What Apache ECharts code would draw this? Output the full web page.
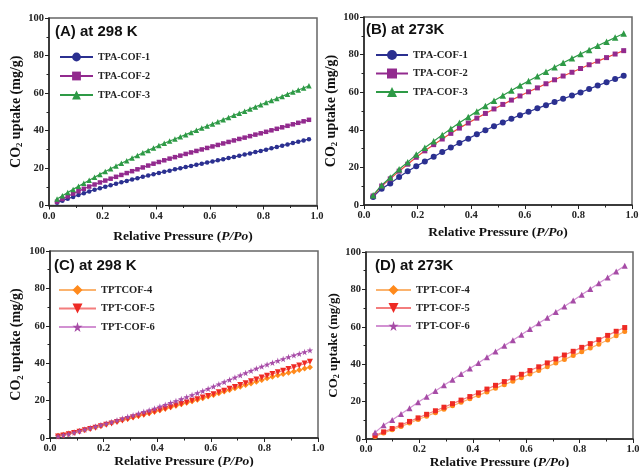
<!DOCTYPE html>
<html><head><meta charset="utf-8">
<script src="https://cdn.jsdelivr.net/npm/echarts@6/dist/echarts.min.js"></script>
<style>html,body{margin:0;padding:0;background:#fff}#c{width:639px;height:467px}</style>
</head><body><div id="c"></div>
<script>
// ---- data ----
const pressureAC = [0.03,0.05,0.07,0.09,0.11,0.13,0.15,0.17,0.19,0.21,0.23,0.25,0.27,0.29,0.31,0.33,0.35,0.37,0.39,0.41,0.43,0.45,0.47,0.49,0.51,0.53,0.55,0.57,0.59,0.61,0.63,0.65,0.67,0.69,0.71,0.73,0.75,0.77,0.79,0.81,0.83,0.85,0.87,0.89,0.91,0.93,0.95,0.97];
const pressureBD = [0.034,0.066,0.098,0.131,0.163,0.195,0.227,0.260,0.292,0.324,0.356,0.389,0.421,0.453,0.485,0.518,0.550,0.582,0.614,0.647,0.679,0.711,0.743,0.776,0.808,0.840,0.872,0.905,0.937,0.969];

const A_TPA1 = [1.5,2.6,3.6,4.6,5.6,6.6,7.5,8.4,9.2,10.0,10.8,11.6,12.4,13.1,13.9,14.6,15.3,16.0,16.7,17.4,18.0,18.6,19.3,19.9,20.5,21.1,21.7,22.3,22.9,23.5,24.1,24.7,25.3,25.9,26.5,27.2,27.8,28.5,29.1,29.8,30.5,31.2,31.9,32.6,33.3,34.0,34.7,35.4];
const A_TPA2 = [2.0,3.5,4.9,6.3,7.6,8.9,10.1,11.2,12.3,13.3,14.3,15.3,16.3,17.3,18.3,19.3,20.3,21.3,22.3,23.2,24.1,25.0,25.8,26.6,27.5,28.3,29.1,29.9,30.7,31.5,32.3,33.1,33.9,34.7,35.5,36.2,37.0,37.8,38.5,39.3,40.1,40.9,41.7,42.5,43.3,44.1,44.9,45.7];
const A_TPA3 = [3.5,5.2,6.9,8.6,10.3,11.9,13.5,15.1,16.6,18.1,19.6,21.1,22.5,23.9,25.3,26.7,28.1,29.4,30.7,32.0,33.2,34.4,35.5,36.7,37.8,39.0,40.1,41.3,42.4,43.5,44.7,45.8,46.9,48.1,49.2,50.3,51.5,52.6,53.7,54.9,56.0,57.1,58.2,59.4,60.5,61.6,62.7,63.9];

const B_TPA1 = [4.3,8.7,11.5,14.9,17.9,20.6,23.2,25.7,28.2,30.6,33.0,35.3,37.6,39.8,41.9,43.9,45.9,47.8,49.6,51.4,53.1,54.8,56.5,58.2,59.9,61.7,63.5,65.3,67.0,68.7];
const B_TPA2 = [4.8,10.1,13.9,18.0,21.7,25.4,28.8,32.1,35.1,38.1,40.9,43.6,46.2,48.7,51.1,53.5,55.8,58.0,60.2,62.3,64.5,66.6,68.6,70.6,72.6,74.6,76.5,78.4,80.3,82.1];
const B_TPA3 = [5.2,10.5,14.6,19.0,22.8,26.8,30.4,33.9,37.3,40.6,43.7,46.8,49.8,52.6,55.4,58.2,60.9,63.5,66.0,68.5,70.9,73.3,75.7,78.0,80.3,82.5,84.7,86.9,89.1,91.2];

const C_TPT4 = [1.2,1.8,2.4,3.0,3.7,4.4,5.1,5.8,6.6,7.3,8.1,8.8,9.6,10.3,11.1,11.8,12.6,13.3,14.1,14.9,15.6,16.4,17.2,18.0,18.8,19.6,20.5,21.3,22.2,23.0,23.9,24.8,25.7,26.6,27.4,28.3,29.2,30.1,31.0,31.9,32.7,33.5,34.2,34.9,35.6,36.3,37.1,37.9];
const C_TPT5 = [0.8,1.4,2.0,2.7,3.4,4.1,4.8,5.5,6.3,7.1,7.8,8.6,9.4,10.1,10.9,11.7,12.5,13.3,14.1,14.9,15.7,16.5,17.4,18.2,19.0,19.9,20.7,21.6,22.5,23.4,24.4,25.3,26.3,27.3,28.3,29.3,30.3,31.3,32.3,33.3,34.2,35.1,36.0,36.9,37.8,38.8,39.8,40.8];
const C_TPT6 = [1.0,1.6,2.2,2.9,3.7,4.5,5.3,6.1,6.9,7.7,8.6,9.5,10.4,11.3,12.2,13.1,14.0,14.9,15.8,16.8,17.8,18.8,19.8,20.8,21.9,23.0,24.1,25.2,26.4,27.6,28.8,30.0,31.2,32.4,33.6,34.8,36.0,37.1,38.2,39.3,40.3,41.3,42.3,43.3,44.2,45.1,46.0,46.9];

const D_TPT4 = [1.4,3.2,4.9,6.7,8.5,10.4,12.2,14.1,15.9,17.8,19.6,21.5,23.3,25.2,27.1,29.0,30.9,32.8,34.7,36.6,38.6,40.6,42.5,44.6,46.6,48.6,50.7,52.9,55.2,57.5];
const D_TPT5 = [1.9,3.8,5.6,7.5,9.4,11.3,13.2,15.1,17.0,18.9,20.8,22.7,24.7,26.7,28.7,30.7,32.7,34.6,36.6,38.6,40.7,42.8,44.9,46.9,49.0,51.0,53.1,55.4,57.6,59.6];
const D_TPT6 = [3.5,7.4,10.2,13.4,16.4,19.6,22.6,25.7,28.7,31.7,34.7,37.7,40.7,43.7,46.8,49.8,52.8,55.8,58.8,61.9,64.9,67.9,70.9,74.0,77.1,80.2,83.3,86.4,89.6,92.7];

const xTickLabels = ['0.0','0.2','0.4','0.6','0.8','1.0'];
const yTickLabels = ['0','20','40','60','80','100'];
const panelTitles = ['(A) at 298 K','(B) at 273K','(C) at 298 K','(D) at 273K'];
const legendA = ['TPA-COF-1','TPA-COF-2','TPA-COF-3'];
const legendC = ['TPTCOF-4','TPT-COF-5','TPT-COF-6'];
const legendD = ['TPT-COF-4','TPT-COF-5','TPT-COF-6'];

// ---- styling ----
const SERIF = "'Liberation Serif','Times New Roman',serif";
const SANS = "'Liberation Sans',Arial,sans-serif";
const STAR = 'path://M50,0 L61,35 L98,35 L68,57 L79,91 L50,70 L21,91 L32,57 L2,35 L39,35 Z';
const C_NAVY='#2b3090', C_PURP='#922a8e', C_GREEN='#2e9a46', C_RED='#ee2a24', C_ORANGE='#ff8a1c', C_VIOLET='#a64ca6';

const chart = echarts.init(document.getElementById('c'), null, {renderer:'canvas'});

const gridPos = [
  {left:49, top:18, width:268, height:187.5},
  {left:364, top:17, width:268, height:188},
  {left:50, top:251, width:268, height:187},
  {left:366, top:252, width:267, height:187}
];
const xGaps = [24, 21, 15, 15];
const yGaps = [24, 22, 25, 23];
const yNameSize = [14, 14, 14, 13];

function xAx(i){ return {type:'value', gridIndex:i, min:0, max:1, interval:0.2,
  name:'{a|Relative Pressure (}{i|P/Po}{a|)}', nameLocation:'middle', nameGap:xGaps[i],
  nameTextStyle:{rich:{a:{fontFamily:SERIF,fontWeight:'bold',fontSize:13.5,color:'#111'},
                       i:{fontFamily:SERIF,fontWeight:'bold',fontStyle:'italic',fontSize:13.5,color:'#111'}}},
  axisLine:{show:true,onZero:false,lineStyle:{color:'#222',width:1.5}},
  axisTick:{show:true,inside:false,length:4,lineStyle:{color:'#222',width:1}},
  minorTick:{show:true,splitNumber:2,length:2.5,lineStyle:{color:'#222',width:1}},
  splitLine:{show:false}, minorSplitLine:{show:false},
  axisLabel:{margin:5,fontFamily:SERIF,fontWeight:'bold',fontSize:10.5,color:'#222',
    formatter:v=>xTickLabels[Math.round(v/0.2)]}
};}
function yAx(i){ const fs=yNameSize[i]; return {type:'value', gridIndex:i, min:0, max:100, interval:20,
  name:'{a|CO}{s|2}{a| uptake (mg/g)}', nameLocation:'middle', nameRotate:90, nameGap:yGaps[i],
  nameTextStyle:{rich:{a:{fontFamily:SERIF,fontWeight:'bold',fontSize:fs,color:'#111'},
                       s:{fontFamily:SERIF,fontWeight:'bold',fontSize:fs*0.62,color:'#111',padding:[fs*0.55,0,0,0]}}},
  axisLine:{show:true,onZero:false,lineStyle:{color:'#222',width:1.5}},
  axisTick:{show:true,inside:false,length:4,lineStyle:{color:'#222',width:1}},
  minorTick:{show:true,splitNumber:2,length:2.5,lineStyle:{color:'#222',width:1}},
  splitLine:{show:false}, minorSplitLine:{show:false},
  axisLabel:{margin:5,fontFamily:SERIF,fontWeight:'bold',fontSize:10.5,color:'#222',
    formatter:v=>yTickLabels[Math.round(v/20)]}
};}

function ser(name, gi, xs, ys, symbol, size, color, lineColor, extra){
  return Object.assign({type:'line', name, xAxisIndex:gi, yAxisIndex:gi,
    data: xs.map((x,k)=>[x, ys[k]]), symbol, symbolSize:size, showSymbol:true,
    itemStyle:{color}, lineStyle:{color:lineColor, width:1.2},
    emphasis:{disabled:true}, silent:true}, extra||{});
}

const series = [
  ser('TPA-COF-1',0,pressureAC,A_TPA1,'circle',4.5,C_NAVY,C_NAVY),
  ser('TPA-COF-2',0,pressureAC,A_TPA2,'rect',4.5,C_PURP,C_PURP),
  ser('TPA-COF-3',0,pressureAC,A_TPA3,'triangle',5.5,C_GREEN,C_GREEN),
  ser('TPA-COF-1',1,pressureBD,B_TPA1,'circle',6,C_NAVY,C_NAVY),
  ser('TPA-COF-2',1,pressureBD,B_TPA2,'rect',5,C_PURP,'#f0483c'),
  ser('TPA-COF-3',1,pressureBD,B_TPA3,'triangle',6.5,C_GREEN,C_GREEN),
  ser('TPTCOF-4',2,pressureAC,C_TPT4,'diamond',6,C_ORANGE,'#fbb36e'),
  ser('TPT-COF-5',2,pressureAC,C_TPT5,'triangle',6,C_RED,'#f37d7d',{symbolRotate:180}),
  ser('TPT-COF-6',2,pressureAC,C_TPT6,STAR,6.5,C_VIOLET,'#d291d2'),
  // legend-only entry for panel D (legend marker differs from plotted marker)
  {type:'line', name:'TPT-COF-4', xAxisIndex:3, yAxisIndex:3, data:[], symbol:'diamond',
    itemStyle:{color:C_ORANGE}, lineStyle:{color:'#fbb36e', width:1.2}},
  ser('TPT-COF-4',3,pressureBD,D_TPT4,'circle',5,C_ORANGE,'#fbb36e'),
  ser('TPT-COF-5',3,pressureBD,D_TPT5,'rect',5,C_RED,'#f37d7d'),
  ser('TPT-COF-6',3,pressureBD,D_TPT6,'triangle',6,C_VIOLET,'#d291d2')
];

function leg(data, left, top, iw, ih, gap, fs){
  return {data, orient:'vertical', left, top, itemWidth:iw, itemHeight:ih, itemGap:gap, padding:0,
    selectedMode:false, lineStyle:{width:2},
    textStyle:{fontFamily:SERIF,fontWeight:'bold',fontSize:fs,color:'#222',lineHeight:12}};
}

const titleStyle = {fontFamily:SANS,fontWeight:'bold',fontSize:15,color:'#111'};
chart.setOption({
  animation:false,
  backgroundColor:'#fff',
  title:[
    {text:panelTitles[0], left:55, top:24, padding:0, textStyle:titleStyle},
    {text:panelTitles[1], left:366, top:22, padding:0, textStyle:titleStyle},
    {text:panelTitles[2], left:54, top:258, padding:0, textStyle:titleStyle},
    {text:panelTitles[3], left:375, top:258, padding:0, textStyle:titleStyle}
  ],
  legend:[
    leg(legendA, 59, 51, 33, 11, 7, 10),
    leg(legendA, 375, 49, 32, 12.5, 6.5, 10.5),
    leg(legendC, 58, 284, 37, 12.5, 6.5, 10.5),
    leg(legendD, 375, 284, 35, 12.5, 6, 10.5)
  ],
  grid: gridPos.map(g=>Object.assign({show:true, borderColor:'#666', borderWidth:1.5,
    backgroundColor:'transparent', containLabel:false, outerBoundsMode:'none'}, g)),
  xAxis:[0,1,2,3].map(xAx),
  yAxis:[0,1,2,3].map(yAx),
  series
});
</script></body></html>
